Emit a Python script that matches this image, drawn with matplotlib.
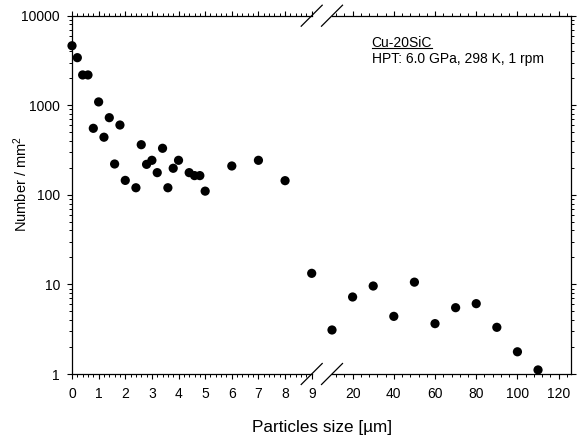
import matplotlib
matplotlib.use("Agg")
import matplotlib.pyplot as plt
from matplotlib.lines import Line2D
from matplotlib.ticker import LogLocator, FixedLocator, FixedFormatter, MultipleLocator, NullFormatter

plt.rcParams['font.family'] = ['Liberation Sans', 'DejaVu Sans']
plt.rcParams['mathtext.fontset'] = 'custom'
plt.rcParams['mathtext.rm'] = 'Liberation Sans'
plt.rcParams['mathtext.it'] = 'Liberation Sans:italic'

# ---- data ----
left_x = [0, 0.2, 0.4, 0.6, 0.8, 1.0, 1.2, 1.4, 1.6, 1.8, 2.0, 2.4, 2.6, 2.8, 3.0,
          3.2, 3.4, 3.6, 3.8, 4.0, 4.4, 4.6, 4.8, 5.0, 6, 7, 8, 9]
left_y = [4620, 3400, 2180, 2180, 553, 1090, 440, 727, 221, 602, 145, 120, 363, 219, 243,
          177, 331, 120, 198, 243, 177, 164, 164, 110, 210, 243, 144, 13.3]
right_x = [10, 20, 30, 40, 50, 60, 70, 80, 90, 100, 110]
right_y = [3.1, 7.24, 9.6, 4.4, 10.6, 3.65, 5.5, 6.1, 3.32, 1.77, 1.11]

left_ticks = [0, 1, 2, 3, 4, 5, 6, 7, 8, 9]
right_ticks = [20, 40, 60, 80, 100, 120]
y_ticks = [1, 10, 100, 1000, 10000]
y_labels = ['1', '10', '100', '1000', '10000']

title_line1 = 'Cu-20SiC'
title_line2 = 'HPT: 6.0 GPa, 298 K, 1 rpm'
x_label = 'Particles size [\u00b5m]'
y_label = 'Number / mm$^\\mathregular{2}$'

# ---- layout ----
W, H = 579, 440
fig = plt.figure(figsize=(W / 100, H / 100), dpi=100)
fig.patch.set_facecolor('white')

x0, xb1, xb2, x1 = 72, 311.7, 332, 571
ytop, ybot = 15.7, 374
B = 1 - ybot / H
T = 1 - ytop / H
ax1 = fig.add_axes([x0 / W, B, (xb1 - x0) / W, T - B])
ax2 = fig.add_axes([xb2 / W, B, (x1 - xb2) / W, T - B])

for ax in (ax1, ax2):
    ax.set_yscale('log')
    ax.set_ylim(1, 10000)
    ax.yaxis.set_major_locator(FixedLocator(y_ticks))
    ax.yaxis.set_minor_locator(LogLocator(base=10, subs=[2, 3, 4, 5, 6, 7, 8, 9], numticks=20))
    ax.yaxis.set_minor_formatter(NullFormatter())
    for s in ax.spines.values():
        s.set_linewidth(0.9)
    ax.tick_params(which='major', direction='out', length=3.6, width=0.8, labelsize=10, pad=5)
    ax.tick_params(which='minor', direction='out', length=2.0, width=0.7)

ax1.set_xlim(0, 9)
ax1.set_xticks(left_ticks)
ax1.set_xticklabels([str(v) for v in left_ticks])
ax1.xaxis.set_minor_locator(MultipleLocator(0.2))
ax1.yaxis.set_major_formatter(FixedFormatter(y_labels))
ax1.spines['right'].set_visible(False)
ax1.tick_params(which='both', top=True, bottom=True, left=True, right=False,
                labeltop=False, labelright=False)
ax1.tick_params(axis='x', which='major', pad=6)

ax2.set_xlim(10, 126)
ax2.set_xticks(right_ticks)
ax2.set_xticklabels([str(v) for v in right_ticks])
ax2.xaxis.set_minor_locator(MultipleLocator(4))
ax2.spines['left'].set_visible(False)
ax2.tick_params(which='both', top=True, bottom=True, left=False, right=True,
                labelleft=False, labelright=False, labeltop=False)
ax2.tick_params(axis='x', which='major', pad=6)

ax1.scatter(left_x, left_y, s=44, c='black', edgecolors='none', clip_on=False, zorder=3)
ax2.scatter(right_x, right_y, s=44, c='black', edgecolors='none', clip_on=False, zorder=3)

# break marks
d = 10.5
for xc in (xb1, xb2):
    for yc in (ybot, ytop):
        fig.add_artist(Line2D([(xc - d) / W, (xc + d) / W],
                              [1 - (yc + d) / H, 1 - (yc - d) / H],
                              transform=fig.transFigure, color='black', lw=0.9))

# axis labels
fig.text(322 / W, 1 - 431.5 / H, x_label, ha='center', va='baseline', fontsize=12.3)
fig.text(21 / W, 1 - 184 / H, y_label, ha='center', va='center', rotation=90, fontsize=10.5)

# annotation
tx = 371.7 / W
t1 = fig.text(tx, 1 - 46.7 / H, title_line1, ha='left', va='baseline', fontsize=10)
fig.text(tx, 1 - 63.3 / H, title_line2, ha='left', va='baseline', fontsize=10)
fig.canvas.draw()
bb = t1.get_window_extent(renderer=fig.canvas.get_renderer())
uy = 1 - 48.2 / H
fig.add_artist(Line2D([bb.x0 / W, bb.x1 / W], [uy, uy], transform=fig.transFigure,
                      color='black', lw=0.8))

fig.savefig('out.png', dpi=100, facecolor='white')
